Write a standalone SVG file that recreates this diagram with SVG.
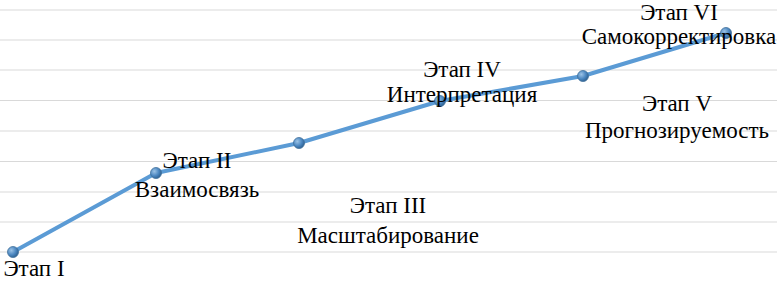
<svg xmlns="http://www.w3.org/2000/svg" width="777" height="282" viewBox="0 0 777 282">
<style>
.grid{stroke:#D9D9D9;stroke-width:1.2}
.ln{fill:none;stroke:#5B9BD5;stroke-width:4;stroke-linejoin:round}
.lbl{font-family:"Liberation Serif","Times New Roman",serif;font-size:23px;fill:#000;text-anchor:middle}
.pt{fill:url(#g);stroke:#41719C;stroke-width:0.8}
</style>
<defs>
<radialGradient id="g" cx="0.35" cy="0.35" r="0.7">
<stop offset="0" stop-color="#9CC3E6"/>
<stop offset="0.6" stop-color="#4A86C0"/>
<stop offset="1" stop-color="#2E5F8E"/>
</radialGradient>
</defs>
<rect width="777" height="282" fill="#fff"/>
<g id="gridlines">
<line class="grid" x1="0" y1="10" x2="777" y2="10"/>
<line class="grid" x1="0" y1="40" x2="777" y2="40"/>
<line class="grid" x1="0" y1="70" x2="777" y2="70"/>
<line class="grid" x1="0" y1="100.5" x2="777" y2="100.5"/>
<line class="grid" x1="0" y1="131" x2="777" y2="131"/>
<line class="grid" x1="0" y1="161.5" x2="777" y2="161.5"/>
<line class="grid" x1="0" y1="192" x2="777" y2="192"/>
<line class="grid" x1="0" y1="222" x2="777" y2="222"/>
<line class="grid" x1="0" y1="252" x2="777" y2="252"/>
</g>
<g id="connectors">
<polyline class="ln" points="13,252 156,173 299,143 440,101 583,76 726,33"/>
</g>
<g id="stage1"><circle class="pt" cx="13" cy="252" r="5.5"/><text class="lbl" x="34" y="276">Этап I</text></g>
<g id="stage2"><circle class="pt" cx="156" cy="173" r="5.5"/><text class="lbl" x="197" y="168">Этап II</text><text class="lbl" x="197" y="197">Взаимосвязь</text></g>
<g id="stage3"><circle class="pt" cx="299" cy="143" r="5.5"/><text class="lbl" x="388" y="213">Этап III</text><text class="lbl" x="388" y="243">Масштабирование</text></g>
<g id="stage4"><circle class="pt" cx="440" cy="101" r="5.5"/><text class="lbl" x="462" y="77">Этап IV</text><text class="lbl" x="462" y="102">Интерпретация</text></g>
<g id="stage5"><circle class="pt" cx="583" cy="76" r="5.5"/><text class="lbl" x="677" y="111">Этап V</text><text class="lbl" x="677" y="138">Прогнозируемость</text></g>
<g id="stage6"><circle class="pt" cx="726" cy="33" r="5.5"/><text class="lbl" x="679" y="20">Этап VI</text><text class="lbl" x="679" y="44">Самокорректировка</text></g>
</svg>
